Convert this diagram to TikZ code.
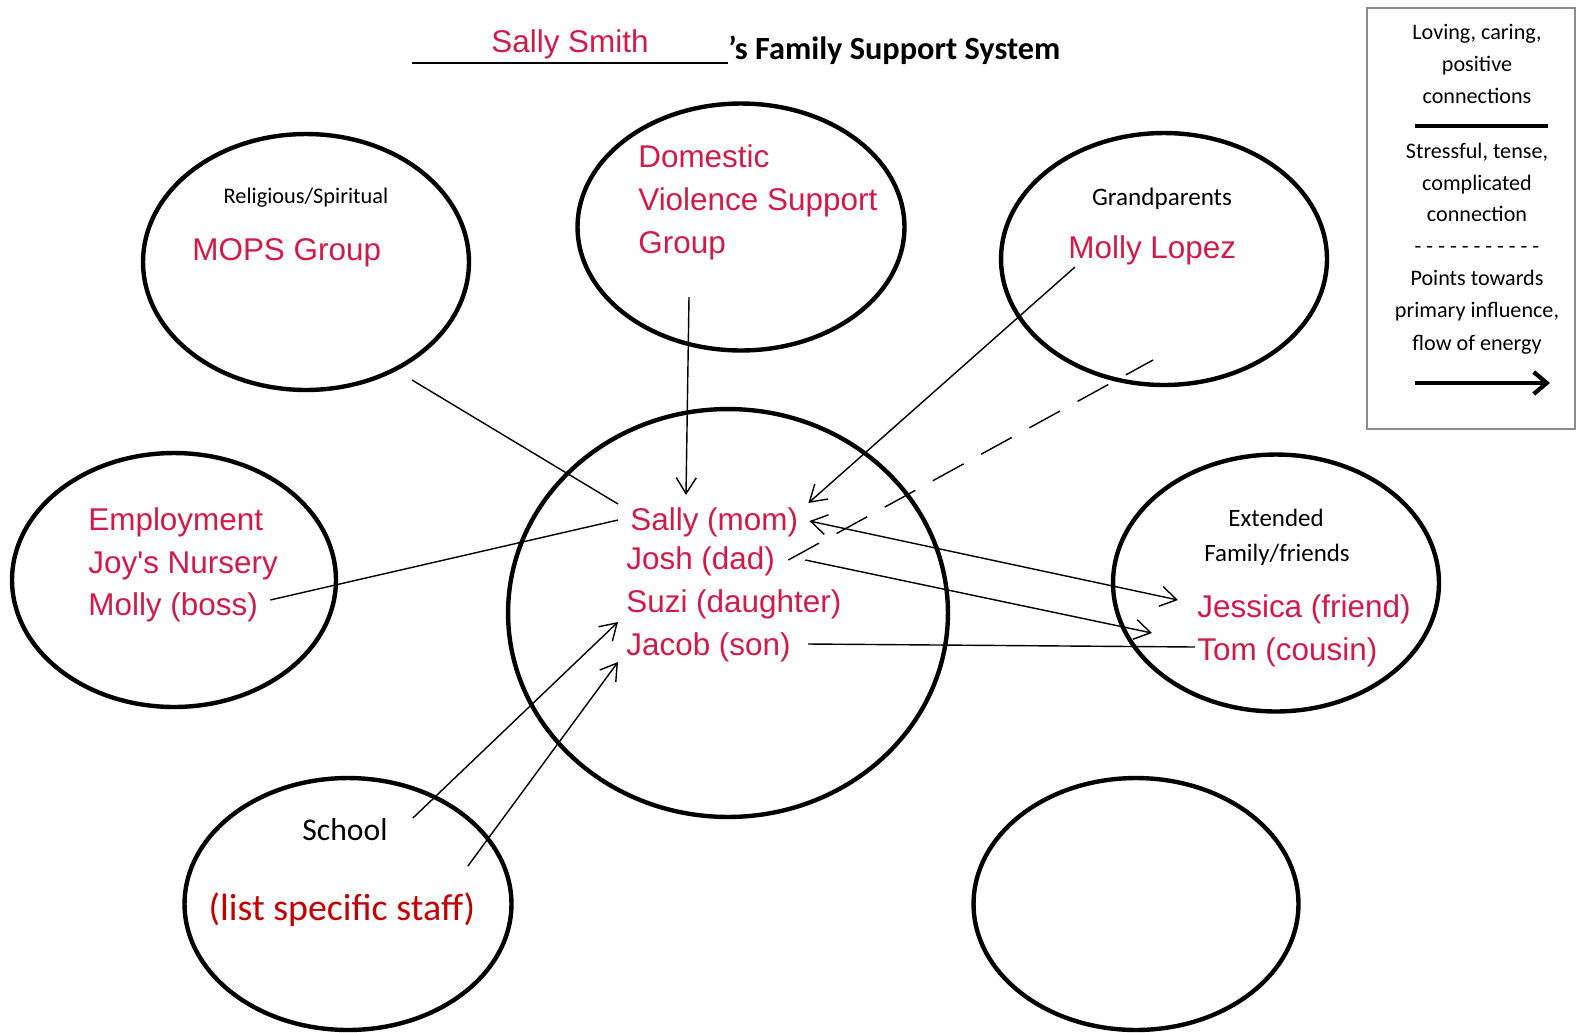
\documentclass[tikz,border=0pt]{standalone}
\usepackage{fontspec}
\setmainfont{Carlito}
\newfontfamily\arialfont{Liberation Sans}
\usetikzlibrary{shapes.geometric,arrows.meta,calc}

\definecolor{pinkred}{RGB}{208,27,72}
\definecolor{staffred}{RGB}{192,0,0}

\tikzset{
	circ/.style={draw, ellipse, line width=2.5pt, inner sep=0pt},
	redtext/.style={font=\arialfont\fontsize{17.9}{21}\selectfont, text=pinkred, inner sep=0pt},
	headtext/.style={inner sep=0pt},
	legtext/.style={font=\fontsize{12.6}{15}\selectfont, inner sep=0pt, anchor=base},
	link/.style={line width=0.8pt},
	arr/.style={link, -{Straight Barb[length=3.2mm, width=4mm]}},
	arrboth/.style={link, {Straight Barb[length=3.2mm, width=4mm]}-{Straight Barb[length=3.2mm, width=4mm]}}
}

\begin{document}
\begin{tikzpicture}[x=0.02cm, y=-0.02cm]
	\useasboundingbox (0,0) rectangle (1576,1032);

	% circles
	\node[circ, minimum width=6.52cm, minimum height=5.12cm] (relig) at (306,262) {};
	\node[circ, minimum width=6.54cm, minimum height=4.94cm] (domestic) at (741,227) {};
	\node[circ, minimum width=6.52cm, minimum height=5.04cm] (grand) at (1164,259) {};
	\node[circ, minimum width=6.48cm, minimum height=5.08cm] (employ) at (174,580) {};
	\node[circ, minimum width=8.8cm, minimum height=8.16cm] (family) at (728,613) {};
	\node[circ, minimum width=6.52cm, minimum height=5.14cm] (extended) at (1276,583) {};
	\node[circ, minimum width=6.54cm, minimum height=5.04cm] (schoolring) at (348,904) {};
	\node[circ, minimum width=6.5cm, minimum height=5.04cm] (spare) at (1136,904) {};

	% title
	\node[redtext, anchor=base] (title) at (570,52) {Sally Smith};
	\node[headtext, anchor=base west, font=\bfseries\fontsize{18.4}{22}\selectfont] (titlebold) at (728,59) {’s Family Support System};
	\draw[line width=1.2pt] (412,63) -- (titlebold.base west |- 0,63);

	% texts
	\node[headtext, anchor=base, font=\fontsize{12.7}{15}\selectfont] (relighead) at (306,203) {Religious/Spiritual};
	\node[redtext, anchor=base west] (mops) at (192,260) {MOPS Group};
	\node[redtext, anchor=base west] (dom1) at (638,167) {Domestic};
	\node[redtext, anchor=base west] (dom2) at (638,210) {Violence Support};
	\node[redtext, anchor=base west] (dvgroup) at (638,253) {Group};
	\node[headtext, anchor=base, font=\fontsize{14.3}{17}\selectfont] (granhead) at (1162,205) {Grandparents};
	\node[redtext, anchor=base west] (lopez) at (1068,258) {Molly Lopez};
	\node[redtext, anchor=base west] (emp1) at (88,530) {Employment};
	\node[redtext, anchor=base west] (emp2) at (88,573) {Joy's Nursery};
	\node[redtext, anchor=base west] (boss) at (88,615) {Molly (boss)};
	\node[redtext, anchor=base west] (sally) at (630,530) {Sally (mom)};
	\node[redtext, anchor=base west] (josh) at (626,569) {Josh (dad)};
	\node[redtext, anchor=base west] (suzi) at (626,612) {Suzi (daughter)};
	\node[redtext, anchor=base west] (jacob) at (626,655) {Jacob (son)};
	\node[headtext, anchor=base, font=\fontsize{14.2}{17}\selectfont] (exthead1) at (1276,526) {Extended};
	\node[headtext, anchor=base, font=\fontsize{14.2}{17}\selectfont] (exthead2) at (1277,561) {Family/friends};
	\node[redtext, anchor=base west] (jessica) at (1197,617) {Jessica (friend)};
	\node[redtext, anchor=base west] (tom) at (1197,660) {Tom (cousin)};
	\node[headtext, anchor=base, font=\fontsize{18}{21}\selectfont] (school) at (345,840) {School};
	\node[headtext, anchor=base, font=\fontsize{21.6}{25}\selectfont, text=staffred] (staff) at (342,920) {(list specific staff)};

	% legend
	\draw[black!45, line width=0.8pt] (1367,8) rectangle (1575,429);
	\foreach \yy/\txt [count=\i] in {39/{Loving, caring,}, 71/positive, 103/connections, 158/{Stressful, tense,}, 190/complicated, 221/connection, 253/{- - - - - - - - - - -}, 285/Points towards, 317/{primary influence,}, 350/flow of energy}
		\node[legtext] (leg\i) at (1477,\yy) {\txt};
	\draw[line width=2.4pt] (1415,126) -- (1548,126);
	\draw[line width=2.4pt, -{Straight Barb[length=2.6mm, width=4.4mm]}] (1415,383) -- (1550,383);

	% connections
	\coordinate (relfoot) at (412,380);
	\draw[link] (relfoot) -- ($(sally.base west)+(-12,-26)$);
	\draw[arr] ($(dvgroup.base west)+(51,44)$) -- ($(sally.base west)+(56,-35)$);
	\draw[arr] ($(lopez.base west)+(7,9)$) -- ($(sally.base east)+(10,-27)$);
	\draw[link, dash pattern=on 0.7cm off 0.4cm] ($(josh.base east)+(13,-9)$) -- ($(grand.center)+(-11,101)$);
	\draw[link] ($(boss.base east)+(12,-15)$) -- ($(sally.base west)+(-12,-10)$);
	\draw[arrboth] ($(sally.base east)+(11,-9)$) -- ($(jessica.base west)+(-19,-17)$);
	\draw[arr] ($(josh.base east)+(30,-9)$) -- ($(tom.base west)+(-45,-27)$);
	\draw[link] ($(jacob.base east)+(17,-11)$) -- ($(tom.base west)+(-2,-13)$);
	\draw[arr] ($(school.base east)+(25,-22)$) -- ($(suzi.base west)+(-8,10)$);
	\draw[arr] ($(school.base east)+(80,26)$) -- ($(jacob.base west)+(-8,7)$);
\end{tikzpicture}
\end{document}
